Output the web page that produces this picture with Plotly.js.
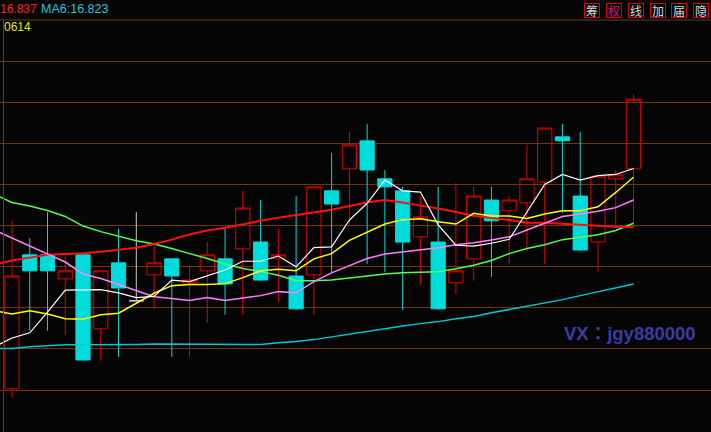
<!DOCTYPE html>
<html><head><meta charset="utf-8">
<script src="https://cdn.plot.ly/plotly-3.0.1.min.js"></script>
<style>html,body{margin:0;padding:0;background:#050505;overflow:hidden}#chart{width:711px;height:432px}</style>
</head><body><div id="chart"></div>
<script>
// ---- data ----
const dayIndex = [0,1,2,3,4,5,6,7,8,9,10,11,12,13,14,15,16,17,18,19,20,21,22,23,24,25,26,27,28,29,30,31,32,33,34,35];
const openP  = [16.113,16.448,16.448,16.388,16.448,16.263,16.428,16.333,16.398,16.438,16.378,16.408,16.438,16.463,16.480,16.440,16.395,16.398,16.608,16.663,16.733,16.638,16.608,16.493,16.480,16.378,16.438,16.585,16.558,16.578,16.630,16.743,16.595,16.480,16.638,16.663];
const highP  = [16.533,16.490,16.555,16.450,16.448,16.408,16.513,16.555,16.473,16.438,16.418,16.480,16.515,16.608,16.585,16.513,16.595,16.618,16.703,16.755,16.775,16.660,16.618,16.595,16.618,16.628,16.618,16.618,16.595,16.723,16.765,16.775,16.755,16.645,16.660,16.850];
const lowP   = [16.090,16.258,16.258,16.248,16.183,16.183,16.193,16.333,16.313,16.193,16.193,16.278,16.298,16.298,16.383,16.330,16.310,16.298,16.405,16.523,16.425,16.405,16.310,16.373,16.310,16.350,16.383,16.393,16.425,16.458,16.425,16.553,16.458,16.405,16.515,16.518];
const closeP = [16.395,16.408,16.408,16.408,16.185,16.408,16.365,16.333,16.428,16.395,16.385,16.448,16.375,16.565,16.385,16.448,16.313,16.618,16.575,16.723,16.660,16.618,16.480,16.543,16.313,16.408,16.595,16.533,16.585,16.638,16.765,16.733,16.460,16.645,16.648,16.837];

const maIndex = [-1,0,1,2,3,4,5,6,7,8,9,10,11,12,13,14,15,16,17,18,19,20,21,22,23,24,25,26,27,28,29,30,31,32,33,34,35];
const ma5   = [16.218,16.240,16.253,16.305,16.360,16.360,16.361,16.353,16.341,16.344,16.385,16.381,16.396,16.410,16.432,16.432,16.445,16.418,16.466,16.468,16.535,16.577,16.635,16.608,16.605,16.523,16.472,16.470,16.477,16.487,16.555,16.624,16.649,16.635,16.646,16.649,16.664];
const ma10  = [16.308,16.300,16.308,16.300,16.288,16.287,16.298,16.302,16.327,16.352,16.371,16.374,16.374,16.376,16.391,16.408,16.412,16.408,16.438,16.451,16.484,16.505,16.525,16.536,16.538,16.531,16.525,16.552,16.545,16.545,16.539,16.550,16.558,16.558,16.568,16.604,16.642];
const ma20  = [16.510,16.490,16.470,16.450,16.430,16.400,16.389,16.374,16.358,16.343,16.339,16.334,16.341,16.334,16.340,16.346,16.356,16.353,16.381,16.403,16.421,16.439,16.450,16.455,16.461,16.466,16.473,16.478,16.485,16.493,16.510,16.528,16.544,16.550,16.557,16.566,16.585];
const ma30  = [16.599,16.579,16.570,16.559,16.544,16.520,16.506,16.494,16.483,16.475,16.464,16.451,16.439,16.425,16.414,16.406,16.397,16.383,16.383,16.385,16.390,16.395,16.400,16.403,16.405,16.406,16.413,16.422,16.434,16.451,16.464,16.473,16.486,16.492,16.498,16.509,16.527];
const ma60  = [16.423,16.434,16.441,16.448,16.450,16.452,16.456,16.461,16.466,16.475,16.486,16.499,16.509,16.516,16.525,16.533,16.541,16.548,16.554,16.561,16.570,16.579,16.585,16.579,16.571,16.564,16.555,16.546,16.540,16.535,16.528,16.528,16.526,16.524,16.521,16.518,16.517];
const ma120 = [16.214,16.214,16.218,16.220,16.223,16.223,16.223,16.223,16.224,16.225,16.225,16.225,16.224,16.224,16.224,16.224,16.228,16.231,16.236,16.243,16.250,16.256,16.263,16.270,16.276,16.281,16.288,16.294,16.303,16.311,16.319,16.328,16.336,16.346,16.356,16.365,16.375];

const headerClose = '16.837';
const headerMA = 'MA6:16.823';
const headerCode = '0614';
const buttonLabels = ['筹','权','线','加','届','隐'];
const watermarkText = 'VX：jgy880000';

// ---- split flat (doji) candles from the rest ----
const norm = {x:[],o:[],h:[],l:[],c:[]}, flat = {x:[],o:[],h:[],l:[],c:[]};
dayIndex.forEach((d,i)=>{
  const t = openP[i]===closeP[i] ? flat : norm;
  t.x.push(d); t.o.push(openP[i]); t.h.push(highP[i]); t.l.push(lowP[i]); t.c.push(closeP[i]);
});

const RED = '#e00000', CYAN = '#00dcdc';
const traces = [
  {type:'candlestick', x:norm.x, open:norm.o, high:norm.h, low:norm.l, close:norm.c,
   increasing:{line:{color:RED,width:1}, fillcolor:'rgba(0,0,0,0)'},
   decreasing:{line:{color:CYAN,width:1}, fillcolor:CYAN},
   whiskerwidth:0, hoverinfo:'skip', showlegend:false},
  {type:'candlestick', x:flat.x, open:flat.o, high:flat.h, low:flat.l, close:flat.c,
   increasing:{line:{color:'#c8c8c8',width:1}, fillcolor:'#c8c8c8'},
   decreasing:{line:{color:'#c8c8c8',width:1}, fillcolor:'#c8c8c8'},
   whiskerwidth:0, hoverinfo:'skip', showlegend:false}
];
const maSpecs = [
  [ma120,'#00c8d0',1.5],
  [ma30,'#50ff50',1.5],
  [ma60,'#ff1010',2],
  [ma20,'#ff80ff',1.5],
  [ma10,'#ffff00',1.5],
  [ma5,'#ffffff',1.2]
];
maSpecs.forEach(([ys,col,w])=>traces.push({type:'scatter',mode:'lines',x:maIndex,y:ys,
  line:{color:col,width:w},hoverinfo:'skip',showlegend:false}));

const W = 711, H = 432, TOP = 20;
const px = v => v / W;
const py = v => (H - v) / (H - TOP);

const annotations = [
  {text:headerClose, x:px(-2), y:py(9), xanchor:'left', yanchor:'middle', font:{family:'Liberation Sans',size:12,color:'#ff2020'}},
  {text:headerMA, x:px(39), y:py(9), xanchor:'left', yanchor:'middle', font:{family:'Liberation Sans',size:12.5,color:'#20c8d0'}},
  {text:headerCode, x:px(2), y:py(27), xanchor:'left', yanchor:'middle', font:{family:'Liberation Sans',size:12,color:'#e8e800'}},
  {text:'<b>'+watermarkText+'</b>', x:px(629.5), y:py(333), xanchor:'center', yanchor:'middle', font:{family:'Liberation Sans, Noto Sans CJK TC',size:18.5,color:'#3c3ca4'}}
];
const btnCenters = [592, 614, 635.5, 657.5, 679, 701];
buttonLabels.forEach((t,i)=>annotations.push({text:t, x:px(btnCenters[i]), y:py(10), xanchor:'center', yanchor:'middle',
  width:14, height:13, borderpad:0, borderwidth:1, bordercolor:RED,
  font:{family:'Noto Sans CJK SC',size:12,color: i===1 ? '#e0107a' : '#d8d8d8'}}));
annotations.forEach(a=>{a.xref='paper'; a.yref='paper'; a.showarrow=false;});

const layout = {
  width:W, height:H, margin:{l:0,r:0,t:TOP,b:0,pad:0},
  paper_bgcolor:'#050505', plot_bgcolor:'#050505',
  showlegend:false, hovermode:false, boxgap:0.1, boxgroupgap:0.11,
  xaxis:{range:[-0.6758,39.365], showgrid:false, zeroline:false, showticklabels:false, ticks:'', rangeslider:{visible:false}, fixedrange:true},
  yaxis:{range:[16.005,17.0352], tick0:16.11, dtick:0.10275, showgrid:true, gridcolor:'#703808', gridwidth:1,
         zeroline:false, showticklabels:false, ticks:'', fixedrange:true},
  shapes:[
    {type:'line', xref:'paper', yref:'paper', x0:0, x1:1, y0:1, y1:1, line:{color:'#703808',width:1}},
    {type:'line', xref:'paper', yref:'paper', x0:px(3.5), x1:px(3.5), y0:0, y1:1, line:{color:'#e00000',width:1}}
  ],
  annotations
};
Plotly.newPlot('chart', traces, layout, {staticPlot:true, displayModeBar:false});
</script>
</body></html>
